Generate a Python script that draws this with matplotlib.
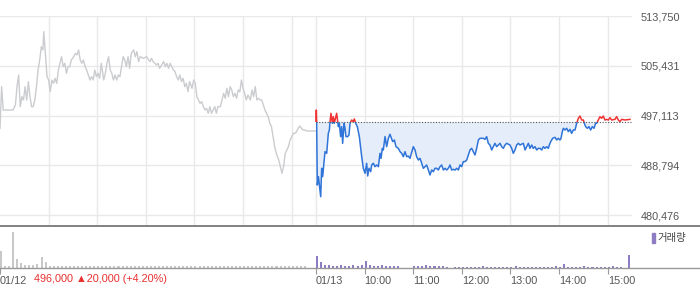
import numpy as np
import matplotlib
matplotlib.use("Agg")
import matplotlib.pyplot as plt
from matplotlib.patches import Rectangle
from matplotlib.lines import Line2D

plt.rcParams['font.family'] = ['Liberation Sans', 'DejaVu Sans', 'Noto Sans CJK KR']

# 분 단위 시간 (01/12 09:00 = 0, 01/13 09:00 = 390)
t1 = [0, 2, 4, 16, 19, 21, 23, 25, 27, 29,
      31, 33, 35, 37, 39, 41, 43, 45, 47, 49,
      51, 53, 54, 56, 58, 60, 62, 64, 66, 68,
      70, 72, 74, 76, 78, 80, 82, 84, 86, 88,
      91, 93, 95, 97, 99, 101, 103, 105, 107, 109,
      111, 113, 115, 117, 119, 121, 123, 125, 128, 130,
      132, 134, 136, 138, 140, 142, 144, 146, 148, 150,
      152, 154, 156, 158, 160, 162, 165, 167, 169, 171,
      173, 177, 181, 185, 187, 189, 193, 195, 197, 202,
      204, 206, 208, 210, 212, 214, 216, 218, 220, 222,
      224, 226, 228, 230, 232, 234, 237, 239, 241, 243,
      245, 247, 249, 251, 253, 255, 257, 259, 261, 263,
      265, 267, 269, 272, 274, 276, 278, 280, 282, 284,
      286, 288, 290, 292, 294, 296, 298, 300, 302, 304,
      306, 309, 311, 313, 315, 317, 319, 321, 323, 325,
      327, 329, 331, 333, 335, 337, 339, 341, 344, 346,
      348, 350, 352, 354, 356, 358, 360, 362, 364, 366,
      368, 370, 372, 374, 376, 379, 383, 389]
p1 = [494970, 501940, 498030, 498030, 498870, 501940, 503890, 498590, 500260, 499710,
      501940, 499710, 502770, 500260, 498590, 498590, 499710, 501940, 504720, 506390,
      508620, 508070, 511130, 507510, 503610, 503050, 501100, 503050, 502490, 503330,
      502490, 504720, 505840, 506950, 505280, 505840, 504160, 505280, 505280, 506390,
      506950, 507510, 507230, 508070, 506390, 505840, 506390, 505280, 504720, 503890,
      503050, 503610, 503050, 504720, 503610, 504160, 503330, 505840, 503050, 504160,
      505840, 506950, 504720, 504160, 503050, 503890, 503050, 503890, 503610, 505280,
      506950, 506390, 505280, 506950, 505000, 507510, 508070, 506950, 507790, 506120,
      506950, 506670, 506950, 506120, 506670, 506120, 505560, 505840, 505000, 506120,
      505280, 505840, 505000, 505840, 505280, 504720, 504440, 503610, 503050, 503890,
      502770, 503330, 501940, 502490, 501100, 502770, 501660, 503050, 502490, 500260,
      499710, 499150, 499430, 498590, 498030, 498310, 497480, 498590, 497480, 498030,
      498590, 497480, 498590, 498590, 499710, 500820, 499990, 501660, 500260, 501940,
      501380, 500260, 500820, 499990, 501380, 501100, 503050, 501660, 500820, 499710,
      500540, 499710, 501380, 500260, 501940, 499710, 499990, 499710, 499710, 498870,
      498030, 497480, 496920, 495810, 495250, 493580, 491900, 490790, 489680, 488560,
      487450, 488560, 490790, 491350, 491900, 493020, 493580, 494130, 494130, 494410,
      494970, 495360, 494970, 494690, 494690, 494520, 494520, 494520]

t2 = [390, 390.4, 390.8, 391.6, 393.0, 395.8, 397.0, 398.2, 401.1, 403.2,
      405.2, 406.5, 407.3, 408.5, 410.2, 411.4, 412.6, 415.5, 417.6, 418.8,
      420.4, 421.7, 422.9, 424.6, 425.8, 427.0, 429.1, 430.7, 432.0, 434.0,
      436.1, 437.3, 439.0, 441.0, 443.5, 446.4, 448.4, 450.5, 452.5, 453.8,
      455.4, 457.5, 458.7, 460.8, 462.8, 464.9, 467.0, 469.0, 470.2, 471.9,
      473.1, 475.2, 477.2, 479.3, 481.3, 484.6, 486.7, 488.7, 491.6, 493.7,
      495.7, 497.8, 499.8, 501.9, 503.9, 506.0, 510.1, 512.2, 514.2, 516.3,
      518.4, 520.4, 522.5, 524.5, 526.6, 528.6, 530.7, 532.8, 534.8, 536.9,
      538.9, 541.0, 543.0, 545.1, 547.2, 549.2, 551.3, 553.3, 555.4, 557.4,
      559.5, 561.6, 563.6, 565.7, 567.7, 569.8, 571.8, 573.9, 576.0, 578.0,
      580.1, 582.1, 584.2, 586.2, 588.3, 590.4, 592.4, 596.5, 598.6, 600.6,
      602.7, 604.7, 606.8, 608.9, 610.9, 613.0, 615.0, 617.1, 619.2, 621.2,
      623.3, 625.3, 629.4, 631.5, 633.5, 635.6, 637.7, 639.7, 641.8, 645.9,
      648.0, 650.0, 652.1, 654.1, 656.2, 658.2, 660.3, 662.4, 664.4, 666.5,
      668.5, 670.6, 672.6, 674.7, 676.8, 678.0, 679.7, 682.1, 685.0, 687.0,
      689.1, 691.1, 692.4, 694.0, 695.3, 697.3, 699.4, 701.4, 703.5, 705.5,
      707.6, 709.7, 711.7, 713.8, 715.8, 717.9, 720.0, 721.2, 722.8, 724.9,
      726.9, 729.0, 731.0, 733.1, 735.1, 736.3, 738.4, 740.5, 742.5, 744.6,
      746.6, 748.7, 750.8, 752.8, 754.9, 759.0, 761.0, 763.1, 765.1, 767.2,
      771.4, 777.5]
p2 = [495970, 498030, 495970, 485490, 486890, 483540, 488280, 486890, 491070, 490790,
      494130, 494690, 496080, 497480, 495800, 496920, 495800, 497480, 495250, 495800,
      493580, 495250, 492460, 495800, 494970, 493580, 493580, 493850, 495800, 496360,
      496080, 496530, 495800, 495250, 493580, 490230, 488280, 487450, 489120, 487000,
      488280, 487720, 488840, 489120, 488560, 488840, 488560, 490790, 489950, 491620,
      491350, 493580, 491900, 493300, 493970, 492740, 493020, 491900, 491620, 491070,
      490790, 490230, 491070, 490230, 490340, 489950, 491900, 491350, 490230, 489670,
      489950, 489120, 488280, 488560, 488840, 488000, 487170, 488000, 487720, 488280,
      488280, 488000, 488560, 488840, 488000, 488280, 488000, 488280, 488840, 488000,
      488110, 488000, 488280, 488000, 488840, 488560, 489400, 489400, 489670, 490510,
      491350, 491620, 491070, 490510, 491620, 493020, 493300, 493300, 493130, 493580,
      492460, 492180, 491350, 491900, 492460, 491900, 492180, 492460, 491900, 491620,
      492180, 492460, 492180, 491620, 490790, 491350, 492180, 492460, 492180, 492460,
      491350, 491900, 492460, 491620, 492180, 491620, 491900, 491350, 491620, 491620,
      491350, 491900, 491620, 491900, 491620, 492180, 492740, 493300, 493460, 493020,
      493300, 493020, 493300, 494410, 494970, 494690, 494970, 494410, 494800, 494130,
      494690, 494690, 495800, 496640, 497030, 496360, 496360, 495800, 495250, 494970,
      495250, 494690, 495250, 494970, 495800, 495800, 496360, 496920, 496640, 497030,
      496360, 496470, 496360, 496750, 496360, 496470, 496920, 496360, 496080, 496470,
      496360, 496470]
prev_close = 496000

# 거래량 (5분 단위)
vol1 = [42, 6, 6, 90, 22, 12, 8, 8, 8, 10, 28, 14,
        5, 4, 5, 4, 6, 4, 4, 5, 4, 4, 5, 6, 4, 4, 5, 4,
        5, 4, 4, 6, 4, 5, 4, 4, 5, 4, 4, 6, 5, 4, 4, 5,
        4, 4, 5, 4, 6, 4, 4, 5, 4, 4, 5, 4, 4, 6, 5, 4,
        4, 5, 4, 4, 5, 4, 6, 4, 4, 5, 4, 4, 5, 4, 4, 4,
        0, 0]
vol2 = [30, 14, 8, 7,
        6, 6, 7, 6, 6, 8, 6, 7,
        18,
        7, 6, 6, 8, 6, 5, 6, 5,
        0, 0, 0,
        4, 5, 4, 8, 4, 5, 4, 4,
        2, 0, 2,
        3, 3, 2, 3, 3, 3, 4, 3, 3, 2, 3, 3, 3, 3, 4, 3, 3, 3, 2, 3, 3, 3, 3, 3, 4, 3,
        10,
        3, 3, 3, 3, 4, 3, 3, 3, 3, 3, 3, 4, 3, 3, 0,
        32]

y_ticks = [480476, 488794, 497113, 505431, 513750]
grid_x = [60, 120, 180, 240, 300, 360, 390, 450, 510, 570, 630, 690, 750]
label_x = [0, 390, 450, 510, 570, 630, 690, 750]
label_txt = ['01/12', '01/13', '10:00', '11:00', '12:00', '13:00', '14:00', '15:00']

day2_start = 390
day_end = 780

fig = plt.figure(figsize=(7, 2.89), dpi=100)

# 가격 차트
ax = fig.add_axes([0, 64 / 289, 632 / 700, 209 / 289])
ax.set_xlim(0, day_end)
ax.set_ylim(478804, 513750)
ax.set_xticks(grid_x)
ax.set_xticklabels([])
ax.tick_params(axis='x', length=0)
ax.yaxis.tick_right()
ax.set_yticks(y_ticks)
ax.set_yticklabels(['{:,}'.format(v) for v in y_ticks], fontsize=7.8, color='#555555')
ax.tick_params(axis='y', length=0, pad=6)
ax.grid(color='#e9e9e9', lw=1)
ax.set_axisbelow(True)
for s in ax.spines.values():
    s.set_visible(False)

ax.plot(t1, p1, color='#cbcccf', lw=1)

t2a = np.array(t2)
p2a = np.array(p2)
ax.fill_between(t2a, p2a, prev_close, where=p2a <= prev_close, interpolate=True,
                color='#e4edf9', lw=0)
blue, = ax.plot(t2a, p2a, color='#2f74d8', lw=1.1)
blue.set_clip_path(Rectangle((day2_start, 400000), day_end, prev_close - 400000,
                             transform=ax.transData))
red, = ax.plot(t2a, p2a, color='#f03333', lw=1.1)
red.set_clip_path(Rectangle((day2_start - 1, prev_close), day_end, 100000,
                            transform=ax.transData))
ax.hlines(prev_close, day2_start, day_end, colors='#555555', linestyles=(0, (1, 1.5)), lw=0.8)

# 거래량 차트
axv = fig.add_axes([0, 21 / 289, 632 / 700, 40 / 289])
axv.set_xlim(0, day_end)
axv.set_ylim(0, 100)
b1 = np.arange(len(vol1)) * 5
b2 = day2_start + np.arange(len(vol2)) * 5
axv.bar(b1, vol1, width=2.5, align='edge', color='#c8c8c8', lw=0)
axv.bar(b2, vol2, width=2.5, align='edge', color='#8e7cc3', lw=0)
for s in axv.spines.values():
    s.set_visible(False)
axv.set_yticks([])
axv.set_xticks(label_x)
axv.set_xticklabels(label_txt, fontsize=7.8, color='#555555', ha='left')
axv.tick_params(axis='x', length=4, color='#999999', pad=2)

# 구분선
fig.add_artist(Line2D([0, 1], [1 - 225.5 / 289, 1 - 225.5 / 289], color='#777777', lw=1.3))
fig.add_artist(Line2D([0, 1], [21 / 289, 21 / 289], color='#999999', lw=1))

fig.text(34 / 700, 1 - 279 / 289, '496,000 \u25b220,000 (+4.20%)', fontsize=7.8,
         color='#e8302f', va='center')

# 범례
fig.add_artist(Rectangle((652 / 700, 1 - 243 / 289), 2.5 / 700, 10 / 289,
                         transform=fig.transFigure, color='#8e7cc3'))
fig.text(657 / 700, 1 - 238 / 289, '거래량', fontsize=7.5, color='#444444', va='center')

fig.savefig('out.png', dpi=100)
